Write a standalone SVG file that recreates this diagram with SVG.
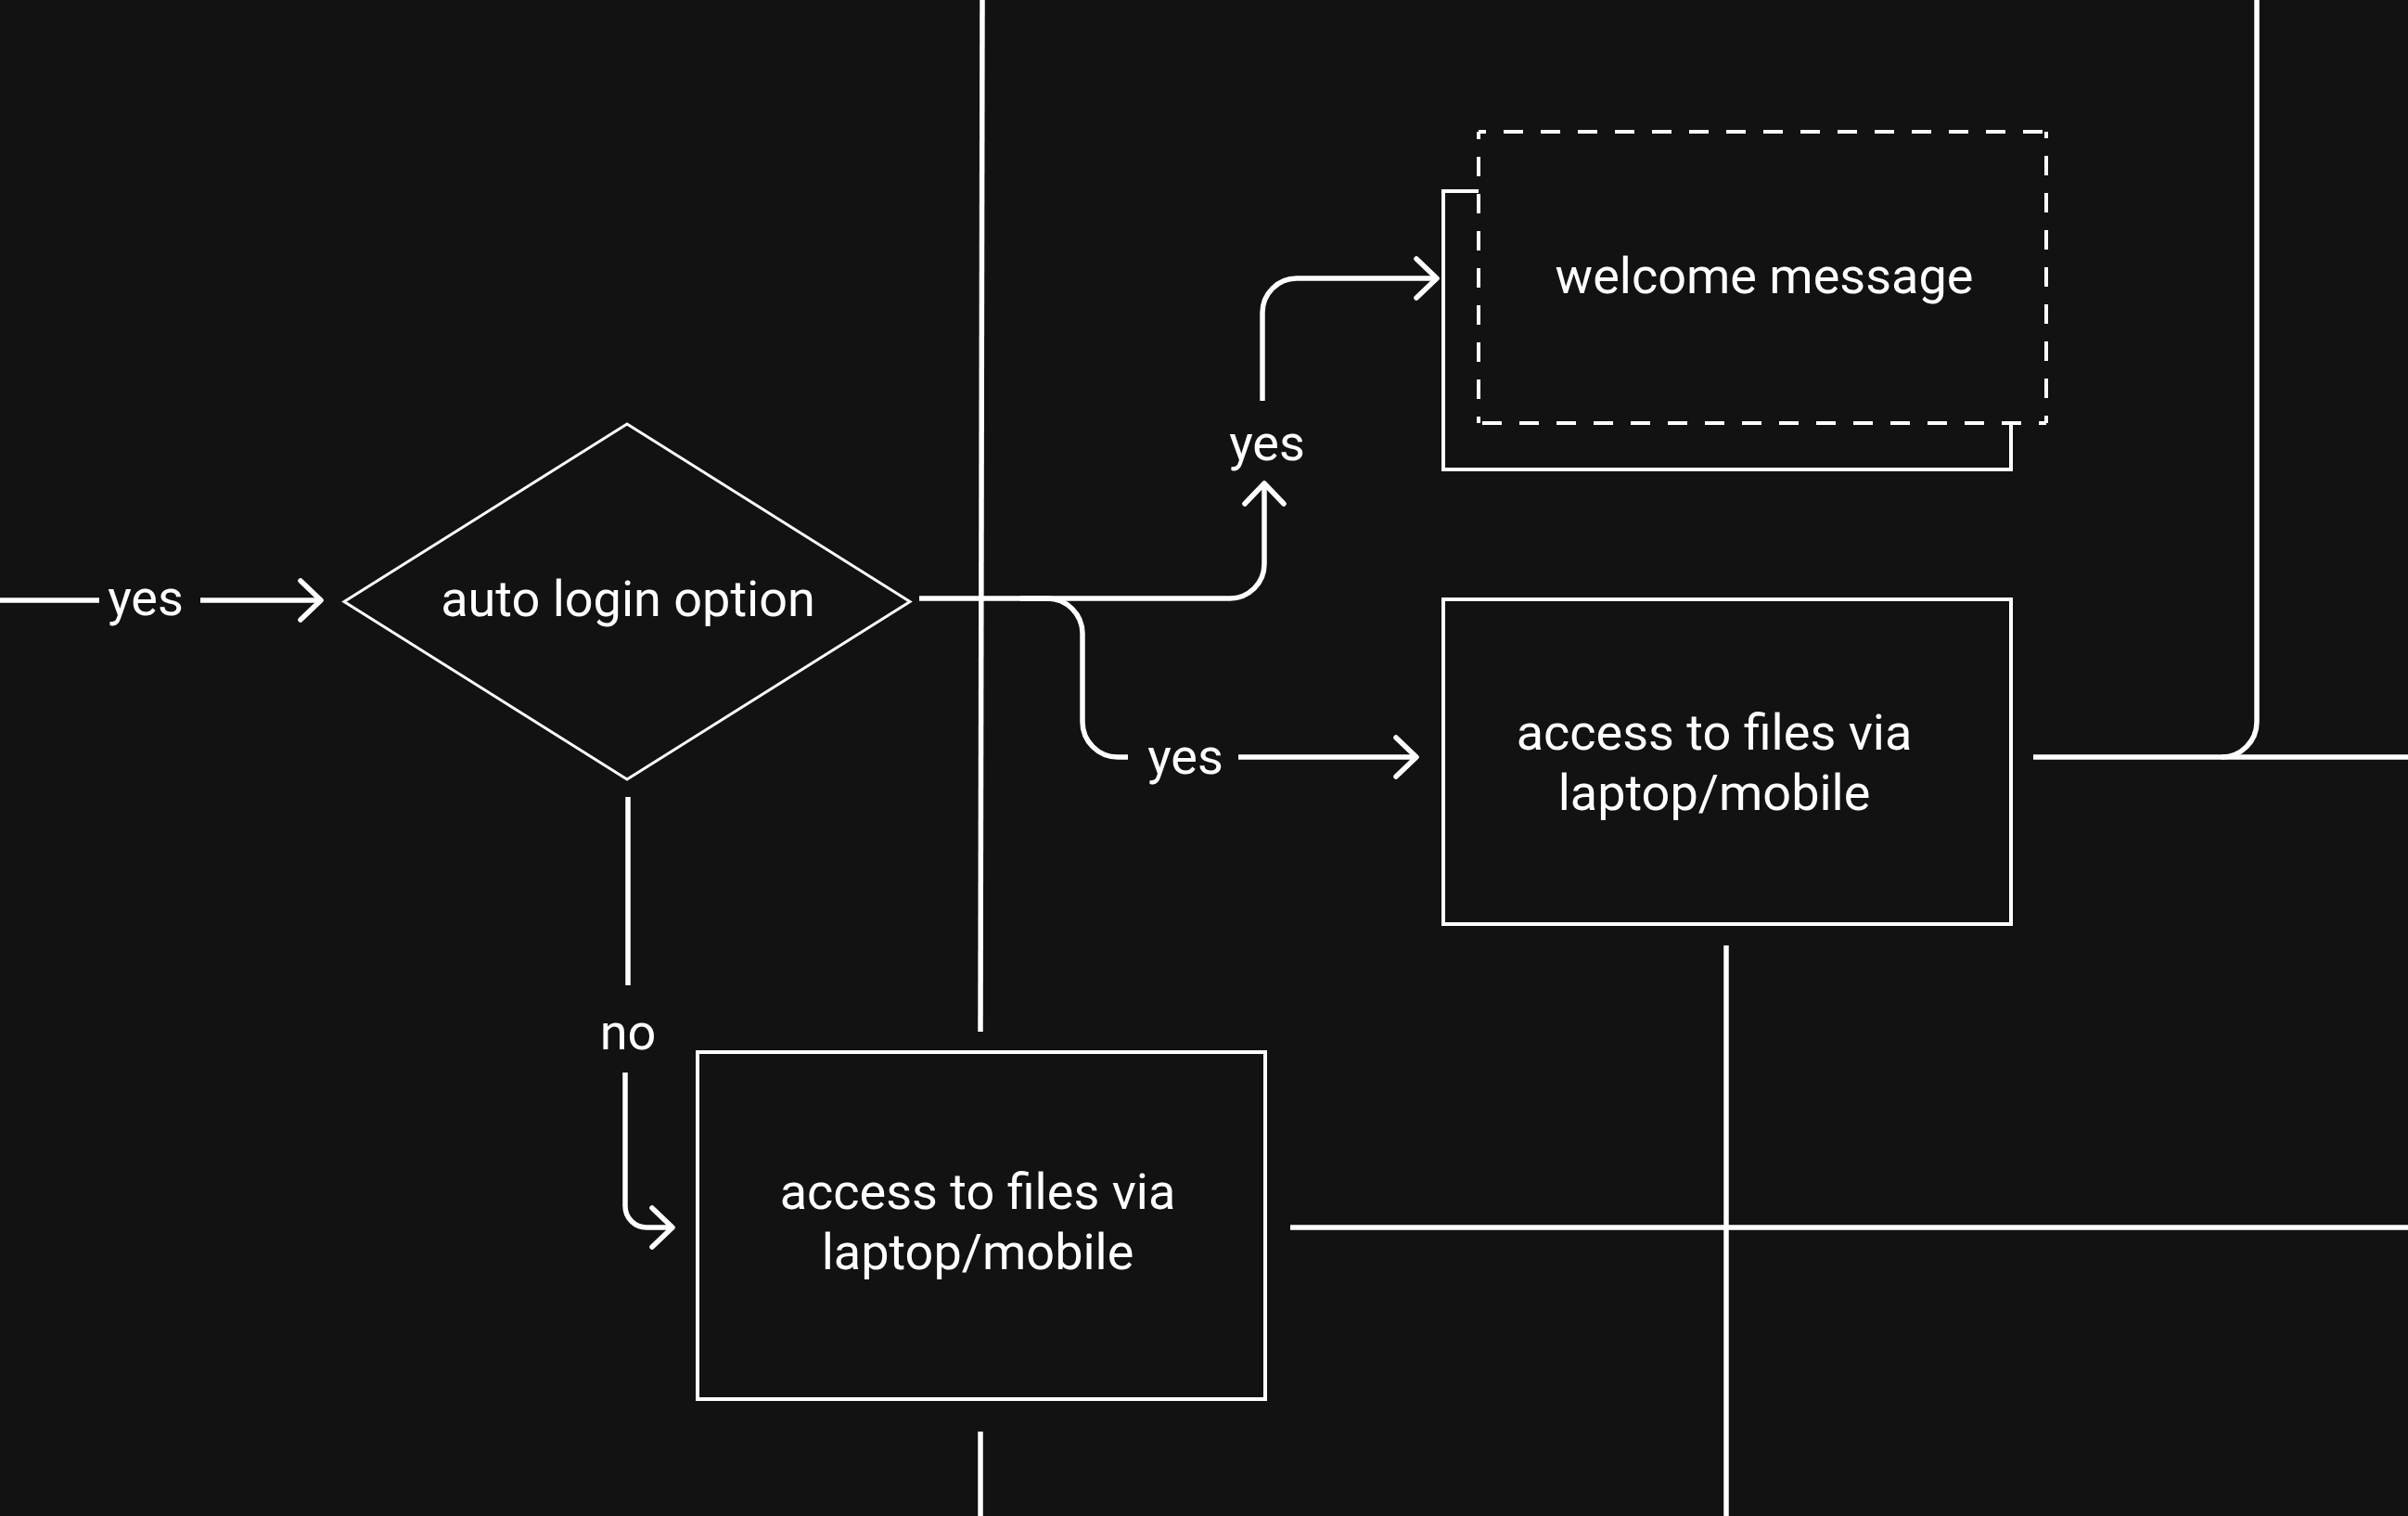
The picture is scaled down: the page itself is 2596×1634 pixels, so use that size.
<svg xmlns="http://www.w3.org/2000/svg" width="2596" height="1634" viewBox="0 0 2596 1634">
  <defs>
    <style>
      .bg { fill: #121212; }
      .box { fill: #121212; stroke: #ffffff; stroke-width: 4; }
      .dash { fill: none; stroke: #ffffff; stroke-width: 4; stroke-dasharray: 21 19; stroke-dashoffset: 13; }
      .dia { fill: #121212; stroke: #ffffff; stroke-width: 3; stroke-linejoin: miter; }
      .conn { fill: none; stroke: #ffffff; stroke-width: 5.5; }
      .lbl { fill: #ffffff; font-family: Roboto, "Liberation Sans", sans-serif; font-size: 54px; text-anchor: middle; }
    </style>
    <marker id="arr" markerUnits="userSpaceOnUse" viewBox="-30 -30 40 60" refX="0" refY="0" markerWidth="40" markerHeight="60" orient="auto" overflow="visible">
      <path d="M-22,-21 L0,0 L-22,21" fill="none" stroke="#ffffff" stroke-width="5.5" stroke-linecap="round" stroke-linejoin="round"/>
    </marker>
  </defs>
  <rect class="bg" x="0" y="0" width="2596" height="1634"/>

  <g id="connectors">
    <line class="conn" x1="1059" y1="0" x2="1057" y2="1112"/>
    <line class="conn" x1="1057" y1="1543" x2="1057" y2="1634"/>
    <line class="conn" x1="1861" y1="1019" x2="1861" y2="1634"/>
    <line class="conn" x1="1391" y1="1323" x2="2596" y2="1323"/>
    <line class="conn" x1="2192" y1="816" x2="2596" y2="816"/>
    <path class="conn" d="M2433,0 V778 A38,38 0 0 1 2395,816"/>
    <line class="conn" x1="0" y1="647" x2="107" y2="647"/>
    <path class="conn" d="M216,647 H346" marker-end="url(#arr)"/>
    <path class="conn" d="M991,645 H1326 A37,37 0 0 0 1363,608 V521" marker-end="url(#arr)"/>
    <path class="conn" d="M1361,432 V337 A37,37 0 0 1 1398,300 H1549" marker-end="url(#arr)"/>
    <path class="conn" d="M1100,645 H1129 A38,38 0 0 1 1167,683 V778 A38,38 0 0 0 1205,816 H1216"/>
    <path class="conn" d="M1335,816 H1527" marker-end="url(#arr)"/>
    <line class="conn" x1="677" y1="859" x2="677" y2="1062"/>
    <path class="conn" d="M674,1156 V1300 A23,23 0 0 0 697,1323 H725" marker-end="url(#arr)"/>
    <text class="lbl" x="157" y="662.5">yes</text>
    <text class="lbl" x="1366" y="496">yes</text>
    <text class="lbl" x="1278" y="834">yes</text>
    <text class="lbl" x="677" y="1131">no</text>
  </g>

  <g id="auto-login">
    <polygon class="dia" points="676,457 981,648.5 676,840 371,648.5"/>
    <text class="lbl" x="677" y="663.5">auto login option</text>
  </g>

  <g id="welcome">
    <rect class="box" x="1556" y="206" width="612" height="300"/>
    <rect x="1594" y="142" width="612" height="314" fill="#121212"/>
    <line class="dash" x1="1594" y1="142" x2="2206" y2="142"/>
    <line class="dash" x1="1594" y1="142" x2="1594" y2="456"/>
    <line class="dash" x1="2206" y1="456" x2="1594" y2="456"/>
    <line class="dash" x1="2206" y1="456" x2="2206" y2="142"/>
    <text class="lbl" x="1902" y="316">welcome message</text>
  </g>

  <g id="access-right">
    <rect class="box" x="1556" y="646" width="612" height="350"/>
    <text class="lbl" x="1848" y="808">access to files via</text>
    <text class="lbl" x="1848" y="873">laptop/mobile</text>
  </g>

  <g id="access-bottom">
    <rect class="box" x="752" y="1134" width="612" height="374"/>
    <text class="lbl" x="1054" y="1303">access to files via</text>
    <text class="lbl" x="1054" y="1368">laptop/mobile</text>
  </g>
</svg>
